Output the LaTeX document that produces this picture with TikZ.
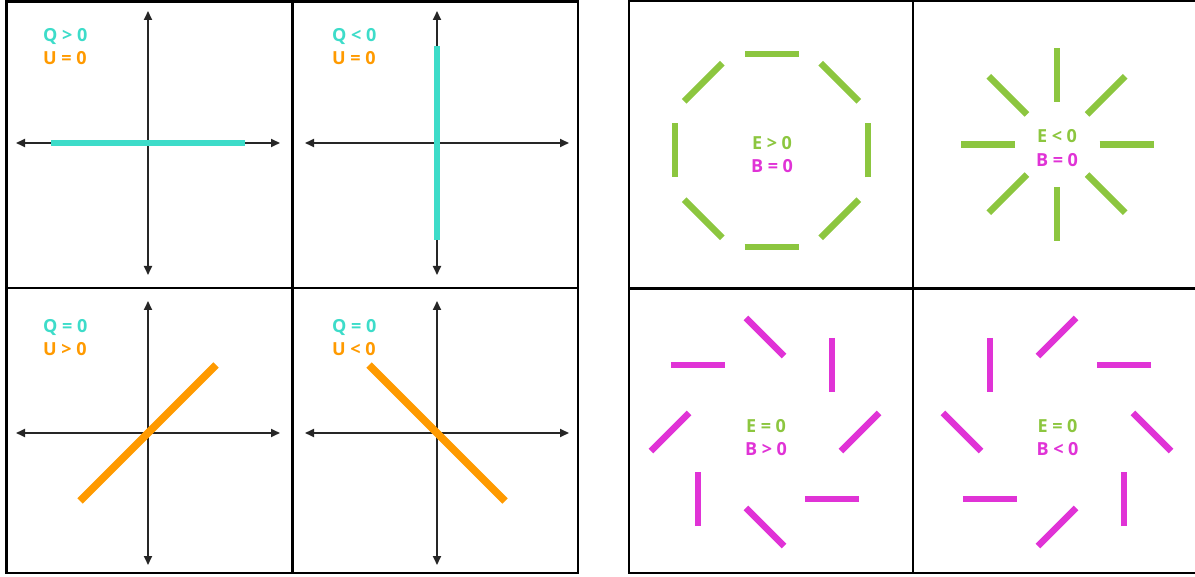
\documentclass[tikz,border=0pt]{standalone}
\usepackage{fontspec}
\setmainfont{Open Sans}
\usetikzlibrary{arrows.meta,calc}
\definecolor{qcol}{HTML}{3DDCC9}
\definecolor{ucol}{HTML}{FF9A00}
\definecolor{ecol}{HTML}{8CC63F}
\definecolor{bcol}{HTML}{E033D6}
\tikzset{
  frame/.style={line width=2.5pt, black},
  axis/.style={line width=1.8pt, black!85, {Triangle[length=9pt,width=8pt]}-{Triangle[length=9pt,width=8pt]}},
  qbar/.style={line width=6.5pt, qcol},
  ubar/.style={line width=7.5pt, ucol},
  ebar/.style={line width=6.5pt, ecol},
  bbar/.style={line width=6.5pt, bcol},
  lbl/.style={font=\fontsize{18}{22}\selectfont\bfseries, inner sep=0pt},
}
\begin{document}
\begin{tikzpicture}[x=1pt,y=-1pt]
\useasboundingbox (0,0) rectangle (1195,577);
% ---------- left panel frame ----------
\draw[frame] (6.5,1.5) rectangle (578,573);
\draw[frame] (292.5,1.5) -- (292.5,573);
\draw[frame] (6.5,288) -- (578,288);
% ---------- axes ----------
\coordinate (c1) at (148,143);
\coordinate (c2) at (437,143);
\coordinate (c3) at (148,433);
\coordinate (c4) at (437,433);
\foreach \c in {c1,c2,c3,c4}{
  \draw[axis] ($(\c)+(-132,0)$) -- ($(\c)+(132,0)$);
  \draw[axis] ($(\c)+(0,-132)$) -- ($(\c)+(0,132)$);
}
% ---------- polarisation bars ----------
\draw[qbar] ($(c1)+(-97,0)$) -- ($(c1)+(97,0)$);
\draw[qbar] ($(c2)+(0,-97)$) -- ($(c2)+(0,97)$);
\draw[ubar] ($(c3)+(-68,68)$) -- ($(c3)+(68,-68)$);
\draw[ubar] ($(c4)+(-68,-68)$) -- ($(c4)+(68,68)$);
% ---------- left labels ----------
\node[lbl, text=qcol, anchor=base west] (q1) at (43,42) {Q > 0};
\node[lbl, text=ucol, anchor=base west] (u1) at (43,65) {U = 0};
\node[lbl, text=qcol, anchor=base west] (q2) at (332,42) {Q < 0};
\node[lbl, text=ucol, anchor=base west] (u2) at (332,65) {U = 0};
\node[lbl, text=qcol, anchor=base west] (q3) at (43,333) {Q = 0};
\node[lbl, text=ucol, anchor=base west] (u3) at (43,356) {U > 0};
\node[lbl, text=qcol, anchor=base west] (q4) at (332,333) {Q = 0};
\node[lbl, text=ucol, anchor=base west] (u4) at (332,356) {U < 0};
% ---------- right panel frame ----------
\draw[frame] (1197,1) -- (629,1) -- (629,573) -- (1197,573);
\draw[frame] (913,1) -- (913,573);
\draw[frame] (629,288.5) -- (1197,288.5);
% ---------- E/B patterns ----------
\coordinate (e1) at (771.5,150.5);
\coordinate (e2) at (1057,144.5);
\coordinate (b1) at (765,432);
\coordinate (b2) at (1057,432);
\foreach \a in {0,45,...,315}{
  % E > 0 : tangential
  \draw[ebar] ($(e1)+(\a:96.5)+(\a+90:27)$) -- ($(e1)+(\a:96.5)+(\a-90:27)$);
  % E < 0 : radial
  \draw[ebar] ($(e2)+(\a:42.5)$) -- ($(e2)+(\a:96.5)$);
  % B > 0
  \draw[bbar] ($(b1)+(\a:95)+(\a-45:27)$) -- ($(b1)+(\a:95)+(\a+135:27)$);
  % B < 0
  \draw[bbar] ($(b2)+(\a:95)+(\a+45:27)$) -- ($(b2)+(\a:95)+(\a+225:27)$);
}
% ---------- right labels ----------
\node[lbl, text=ecol, anchor=base] (et1) at (772,150) {E > 0};
\node[lbl, text=bcol, anchor=base] (bt1) at (772,173) {B = 0};
\node[lbl, text=ecol, anchor=base] (et2) at (1057,143) {E < 0};
\node[lbl, text=bcol, anchor=base] (bt2) at (1057,166.5) {B = 0};
\node[lbl, text=ecol, anchor=base] (et3) at (766,432) {E = 0};
\node[lbl, text=bcol, anchor=base] (bt3) at (766,455) {B > 0};
\node[lbl, text=ecol, anchor=base] (et4) at (1057.5,432) {E = 0};
\node[lbl, text=bcol, anchor=base] (bt4) at (1057.5,455) {B < 0};
\end{tikzpicture}
\end{document}
